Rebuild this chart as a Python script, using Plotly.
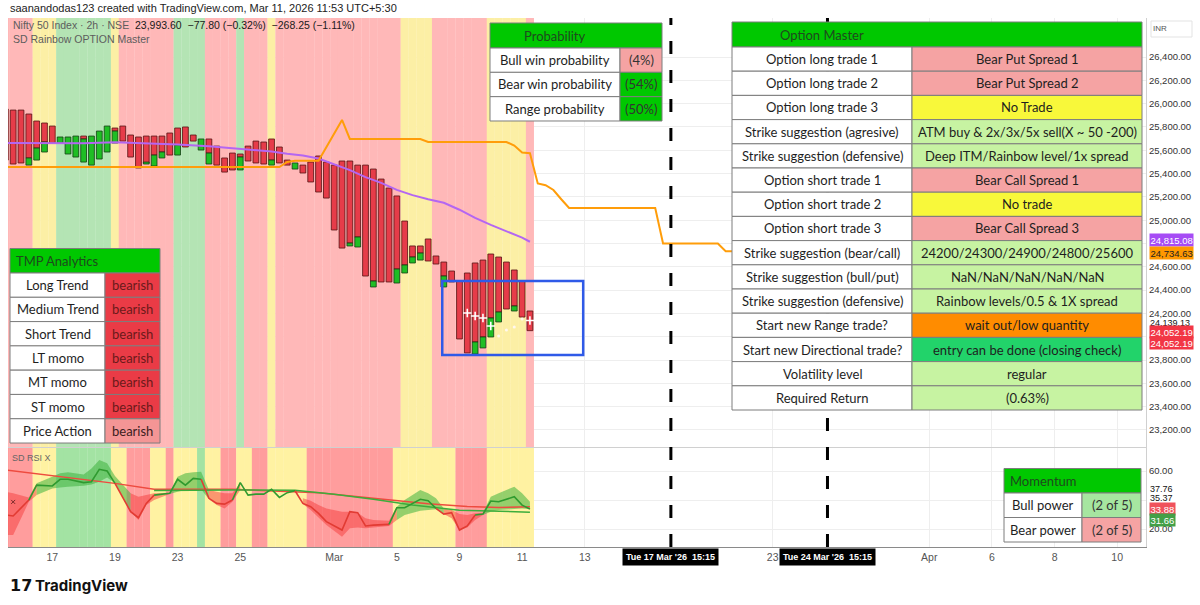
import plotly.graph_objects as go

W, H = 1200, 605
N = None

# ------------------------------------------------------------------ data
bar_idx = list(range(-2, 66))
red_hi = [25954, 25945, 25945, 25911, 25851, 25834, 25808, N, N, N, 25722, N, N, N, 25791, 25808,
          25731, 25714, 25722, 25722, 25722, 25748, 25791, 25800, 25731, N, 25697, 25636, 25534, 25576,
          25568, 25636, 25679, 25671, 25697, 25628, 25516, N, 25473, 25499, 25551, 25499, 25473, 25508,
          25508, 25473, 25473, 25439, 25353, 25276, 25208, 24993, 24779, 24779, 24839, 24693, 24641,
          24564, 24478, 24547, 24633, 24658, 24710, 24684, 24641, 24573, 24478, 24221]
red_lo = [25516, 25482, 25491, 25534, 25619, 25671, 25662, N, N, N, 25697, N, N, N, 25765, 25679,
          25542, 25448, 25491, 25559, 25585, 25559, 25645, 25628, 25679, N, 25576, 25473, 25413, 25431,
          25542, 25508, 25491, 25482, 25516, 25491, 25473, N, 25405, 25328, 25242, 25190, 24916, 24761,
          24804, 24856, 24521, 24478, 24470, 24470, 24581, 24616, 24684, 24718, 24650, 24624, 24521,
          24470, 23981, 23861, 23955, 23998, 24161, 24212, 24238, 24264, 24169, 24052.19]
grn_hi = [N, N, N, 25534, 25619, 25671, N, 25714, 25714, 25722, 25697, 25722, 25765, 25808, 25765, N,
          N, N, 25499, 25559, 25585, N, 25645, N, N, 25697, 25576, N, N, N,
          25542, N, N, N, 25516, N, N, 25491, N, N, N, N, N, N,
          24804, 24856, N, 24478, N, N, 24581, 24616, 24684, 24718, N, N, 24521,
          N, N, N, 23955, 23998, 24161, 24212, N, 24264, N, N]
grn_lo = [N, N, N, 25473, 25516, 25585, N, 25662, 25568, 25542, 25499, 25473, 25525, 25585, 25662, N,
          N, N, 25482, 25465, 25534, N, 25559, N, N, 25602, 25482, N, N, N,
          25431, N, N, N, 25473, N, N, 25439, N, N, N, N, N, N,
          24779, 24770, N, 24427, N, N, 24461, 24547, 24633, 24658, N, N, 24427,
          N, N, N, 23852, 23904, 23998, 24127, N, 24221, N, N]

# background state per bar (runs of r / y / g)
main_bg_runs = [("r", 4), ("y", 3), ("g", 7), ("y", 1), ("r", 7), ("g", 4), ("r", 4), ("g", 1),
                ("r", 3), ("y", 1), ("r", 16), ("y", 4), ("r", 7), ("y", 5), ("r", 1)]
rsi_bg_runs = [("r", 4), ("y", 3), ("g", 7), ("y", 2), ("r", 3), ("y", 2), ("r", 1), ("y", 3),
               ("g", 1), ("y", 2), ("r", 2), ("y", 2), ("r", 2), ("y", 5), ("r", 11), ("y", 8),
               ("r", 4), ("y", 6)]

# moving average (purple) and projected level (orange)
ma_x = [-2, 0, 4, 8, 12, 16, 20, 24, 28, 32, 34, 36, 38, 40, 42, 44, 46, 48, 50, 52, 54, 56, 58, 60,
        62, 64, 65]
ma_y = [25662, 25662, 25662, 25660, 25668, 25660, 25650, 25635, 25612, 25590, 25570, 25555, 25530,
        25480, 25430, 25370, 25320, 25260, 25215, 25180, 25150, 25090, 25020, 24960, 24905, 24850,
        24815.08]
or_x = [-2, 33, 34, 35, 38, 41, 42, 51, 52, 62, 63, 64, 65, 66, 67, 68, 69, 70, 81, 82, 89, 90, 143]
or_y = [25456, 25456, 25500, 25510, 25510, 25860, 25697, 25697, 25671, 25671, 25640, 25580, 25575,
        25316, 25300, 25259, 25180, 25105, 25105, 24800, 24800, 24734.63, 24734.63]

cross_x = [57, 58, 59, 60, 65]
cross_y = [24204, 24178, 24161, 24092, 24139.13]
dot_x = [61, 62, 63, 64]
dot_y = [24006, 24058, 24084, 24152]

# RSI panel
rsi_x = [-2, -1, 1, 2, 4, 5, 6, 8, 9, 10, 11, 12, 14, 15, 16, 17, 19, 20, 21, 22, 23, 24, 25, 26,
         27, 28, 29, 30, 31, 32, 33, 34, 35, 36, 37, 38, 39, 41, 42, 43, 44, 45, 47, 48, 49, 51,
         52, 53, 54, 55, 56, 57, 58, 59, 60, 61, 63, 64, 65]
rsi_fast = [29.7, 29.0, 40.0, 50.3, 49.7, 54.3, 54.3, 52.0, 52.6, 61.2, 60.0, 51.5, 32.0, 27.8,
            37.7, 43.4, 44.6, 54.3, 50.3, 54.9, 54.3, 41.2, 37.7, 37.2, 40.0, 52.0, 43.4, 44.1,
            44.1, 47.4, 41.8, 45.1, 46.4, 37.7, 35.4, 30.8, 25.1, 19.3, 32.0, 31.3, 22.1, 22.7,
            23.2, 34.7, 34.7, 40.5, 39.5, 34.2, 30.3, 31.3, 19.3, 22.1, 29.7, 30.3, 39.3, 38.8,
            42.3, 36.5, 33.88]
band_hi = [45.8, 44.6, 41.8, 51.5, 56.1, 58.4, 59.1, 57.7, 61.8, 67.6, 65.3, 56.6, 44.6, 42.3,
           43.4, 44.6, 45.1, 56.1, 58.4, 59.1, 59.5, 46.9, 45.8, 44.6, 44.6, 52.0, N, N, N, N, N,
           N, N, 41.2, 39.5, 36.5, 34.2, 32.0, 32.0, 31.3, 27.4, 26.2, 25.7, 35.4, 40.0, 46.9,
           44.6, 41.2, 34.2, 33.1, 30.3, 29.7, 30.8, 31.3, 42.3, 44.6, 49.2, 44.6, 38.8]
band_lo = [15.8, 15.8, 38.8, 43.4, 48.0, 48.7, 49.2, 49.9, 50.8, 52.6, 55.6, 51.5, 32.0, 26.2,
           36.5, 40.0, 44.1, 45.8, 46.9, 46.9, 47.4, 40.5, 36.5, 34.2, 38.8, 46.9, N, N, N, N, N,
           N, N, 37.2, 33.1, 28.0, 22.7, 14.7, 20.5, 21.1, 20.5, 21.1, 22.1, 26.2, 29.7, 32.6,
           33.1, 33.6, 30.3, 27.4, 19.3, 21.1, 26.2, 29.7, 32.0, 33.1, 33.8, 34.2, 33.6]
band_runs = [("r", 3), ("g", 9), ("r", 4), ("g", 5), ("r", 4), ("g", 1), ("n", 7), ("r", 10),
             ("g", 5), ("r", 5), ("g", 6)]
slow_x = [-2, 5, 12, 17, 27, 38, 47, 52, 57, 61, 65]
slow_y = [60.7, 56.1, 51.5, 47.4, 47.4, 45.1, 40.0, 37.5, 35.5, 34.8, 35.37]
sig_x = [17, 27, 35, 40, 45, 50, 56, 60, 65]
sig_y = [46.5, 47.0, 46.8, 44.0, 40.5, 36.5, 33.0, 32.2, 31.66]
xmark_x = [-1]
xmark_y = [38.7]

# axis labels
date_ticks = [4, 12, 20, 28, 40, 48, 56, 64, 72, 96, 116, 124, 132, 140]
date_text = ["17", "19", "23", "25", "Mar", "5", "9", "11", "13", "23", "Apr", "6", "8", "10"]
mark_bars = [83, 103]
mark_text = ["Tue 17 Mar '26  15:15", "Tue 24 Mar '26  15:15"]
price_ticks = [23200, 23400, 23600, 23800, 24000, 24200, 24400, 24600, 24800, 25000, 25200, 25400,
               25600, 25800, 26000, 26200, 26400]
price_tick_text = ["23,200.00", "23,400.00", "23,600.00", "23,800.00", "", "24,200.00",
                   "24,400.00", "24,600.00", "", "25,000.00", "25,200.00", "25,400.00",
                   "25,600.00", "25,800.00", "26,000.00", "26,200.00", "26,400.00"]
rsi_ticks = [20, 40, 60]
rsi_tick_text = ["20.00", "", "60.00"]

# tables
tmp_labels = ["Long Trend", "Medium Trend", "Short Trend", "LT momo", "MT momo", "ST momo",
              "Price Action"]
tmp_values = ["bearish", "bearish", "bearish", "bearish", "bearish", "bearish", "bearish"]
tmp_state = ["strong", "strong", "strong", "strong", "strong", "strong", "weak"]
prob_labels = ["Bull win probability", "Bear win probability", "Range probability"]
prob_values = ["(4%)", "(54%)", "(50%)"]
prob_state = ["lred", "green", "green"]
om_labels = ["Option long trade 1", "Option long trade 2", "Option long trade 3",
             "Strike suggestion (agresive)", "Strike suggestion (defensive)",
             "Option short trade 1", "Option short trade 2", "Option short trade 3",
             "Strike suggestion (bear/call)", "Strike suggestion (bull/put)",
             "Strike suggestion (defensive)", "Start new Range trade?",
             "Start new Directional trade?", "Volatility level", "Required Return"]
om_values = ["Bear Put Spread 1", "Bear Put Spread 2", "No Trade",
             "ATM buy &amp; 2x/3x/5x sell(X ~ 50 -200)", "Deep ITM/Rainbow level/1x spread",
             "Bear Call Spread 1", "No trade", "Bear Call Spread 3",
             "24200/24300/24900/24800/25600", "NaN/NaN/NaN/NaN/NaN",
             "Rainbow levels/0.5 &amp; 1X spread", "wait out/low quantity",
             "entry can be done (closing check)", "regular", "(0.63%)"]
om_state = ["lred", "lred", "yellow", "lgreen", "lgreen", "lred", "yellow", "lred", "lgreen",
            "lgreen", "lgreen", "orange", "mint", "lgreen", "lgreen"]
mom_labels = ["Bull power", "Bear power"]
mom_values = ["(2 of 5)", "(2 of 5)"]
mom_state = ["pgreen", "lred"]

# ------------------------------------------------------------------ style
MAIN_BG = {"r": "#ffb8b8", "y": "#fcefa5", "g": "#b4e4b4"}
RSI_BG = {"r": "#ff9d9d", "y": "#fff2a2", "g": "#a3e3a3"}
CELL = {"lred": "#f5a3a3", "green": "#00c800", "yellow": "#f8f83a", "lgreen": "#c7f3a2",
        "orange": "#ff8c00", "mint": "#22d36a", "pgreen": "#a6e6a0",
        "strong": "#ea3b46", "weak": "#f49595"}
HEAD = "#00c800"
GRID = "#eeeeee"
FONT = "Lato"
AXFONT = "Liberation Sans"

MAIN_LO, MAIN_HI = 23054, 26735
RSI_LO, RSI_HI = 7.6, 75.9
X_LO, X_HI = -1.66, 143.68


def px(x):
    return x / W


def py(y):
    return 1 - y / H


def expand(runs):
    out = []
    for s, n in runs:
        out += [s] * n
    return out


fig = go.Figure()

# background bands
mb = expand(main_bg_runs)
fig.add_trace(go.Bar(x=bar_idx, y=[MAIN_HI - MAIN_LO] * len(bar_idx), base=MAIN_LO, width=1.03,
                     marker=dict(color=[MAIN_BG[s] for s in mb], line=dict(width=0)),
                     xaxis="x", yaxis="y", hoverinfo="skip"))
rb = expand(rsi_bg_runs)
fig.add_trace(go.Bar(x=bar_idx, y=[RSI_HI - RSI_LO] * len(bar_idx), base=RSI_LO, width=1.03,
                     marker=dict(color=[RSI_BG[s] for s in rb], line=dict(width=0)),
                     xaxis="x2", yaxis="y2", hoverinfo="skip"))

# candles
fig.add_trace(go.Bar(x=bar_idx, base=red_lo,
                     y=[(h - l) if h is not None else None for h, l in zip(red_hi, red_lo)],
                     width=0.74, marker=dict(color="#e63c49", line=dict(color="#561313", width=0.8)),
                     xaxis="x", yaxis="y"))
fig.add_trace(go.Bar(x=bar_idx, base=grn_lo,
                     y=[(h - l) if h is not None else None for h, l in zip(grn_hi, grn_lo)],
                     width=0.74, marker=dict(color="#1fbe24", line=dict(color="#143d14", width=0.8)),
                     xaxis="x", yaxis="y"))

fig.add_trace(go.Scatter(x=ma_x, y=ma_y, mode="lines", line=dict(color="#b466f2", width=2),
                         xaxis="x", yaxis="y"))
fig.add_trace(go.Scatter(x=or_x, y=or_y, mode="lines", line=dict(color="#ff9d0a", width=2),
                         xaxis="x", yaxis="y"))
fig.add_trace(go.Scatter(x=cross_x, y=cross_y, mode="markers",
                         marker=dict(symbol="cross-thin", size=6, line=dict(color="white", width=1.6)),
                         xaxis="x", yaxis="y"))
fig.add_trace(go.Scatter(x=dot_x, y=dot_y, mode="markers",
                         marker=dict(symbol="circle", size=3, color="#fff8f0"),
                         xaxis="x", yaxis="y"))

# RSI bands
states = expand(band_runs)
k = 0
for s, n in band_runs:
    if s != "n":
        end = k + n
        if end < len(states) and states[end] != "n":
            end += 1
        xs = rsi_x[k:end]
        hi = band_hi[k:end]
        lo = band_lo[k:end]
        if len(xs) > 1:
            fig.add_trace(go.Scatter(x=xs + xs[::-1], y=hi + lo[::-1], fill="toself", mode="none",
                                     fillcolor="rgba(62,178,62,0.55)" if s == "g" else "rgba(245,60,60,0.5)",
                                     xaxis="x2", yaxis="y2", hoverinfo="skip"))
    k += n

fig.add_trace(go.Scatter(x=slow_x, y=slow_y, mode="lines", line=dict(color="#ee4b3f", width=1.5),
                         xaxis="x2", yaxis="y2"))
fig.add_trace(go.Scatter(x=sig_x, y=sig_y, mode="lines", line=dict(color="#3cad3c", width=1.5),
                         xaxis="x2", yaxis="y2"))

# fast RSI: coloured segments
seg_x, seg_y, seg_c = [rsi_x[0]], [rsi_fast[0]], None
for j in range(1, len(rsi_x)):
    c = "#e23b33" if states[j] == "r" else "#2f9a2f"
    if seg_c is not None and c != seg_c:
        fig.add_trace(go.Scatter(x=seg_x, y=seg_y, mode="lines", line=dict(color=seg_c, width=1.6),
                                 xaxis="x2", yaxis="y2"))
        seg_x, seg_y = [seg_x[-1]], [seg_y[-1]]
    seg_c = c
    seg_x.append(rsi_x[j])
    seg_y.append(rsi_fast[j])
fig.add_trace(go.Scatter(x=seg_x, y=seg_y, mode="lines", line=dict(color=seg_c, width=1.6),
                         xaxis="x2", yaxis="y2"))
fig.add_trace(go.Scatter(x=xmark_x, y=xmark_y, mode="markers",
                         marker=dict(symbol="x-thin", size=4, line=dict(color="#7a2a2a", width=1)),
                         xaxis="x2", yaxis="y2"))

shapes = []
annots = []

# blue box drawing
box_x = [53.8, 71.8]
box_p = [24478, 23843]
shapes.append(dict(type="rect", xref="x", yref="y", x0=box_x[0], x1=box_x[1], y0=box_p[1],
                   y1=box_p[0], line=dict(color="#2f5ae8", width=2.5), layer="above"))

# dashed vertical markers
for xb, t in zip(mark_bars, mark_text):
    shapes.append(dict(type="line", xref="x", yref="paper", x0=xb, x1=xb, y0=py(547), y1=py(18),
                       line=dict(color="black", width=3, dash="13px,16px"), layer="above"))
    annots.append(dict(xref="x", yref="paper", x=xb, y=py(557), text="<b>" + t + "</b>",
                       showarrow=False, font=dict(size=9, color="white", family=AXFONT),
                       bgcolor="black", borderpad=3, xanchor="center", yanchor="middle"))


def cell(x0, y0, x1, y1, fill, text, color, size, align="center"):
    shapes.append(dict(type="rect", xref="paper", yref="paper", x0=px(x0), x1=px(x1), y0=py(y1),
                       y1=py(y0), fillcolor=fill, line=dict(color="#7d7d7d", width=1),
                       layer="above"))
    if text:
        annots.append(dict(xref="paper", yref="paper", x=px((x0 + x1) / 2), y=py((y0 + y1) / 2),
                           text=text, showarrow=False, xanchor="center", yanchor="middle",
                           font=dict(size=size, color=color, family=FONT)))


def table(x0, xs, x1, ytop, hh, rh, title, labels, values, fills, tcolors, size):
    cell(x0, ytop, x1, ytop + hh, HEAD, None, None, size)
    annots.append(dict(xref="paper", yref="paper", x=px((x0 + xs) / 2), y=py(ytop + hh / 2),
                       text=title, showarrow=False, xanchor="center", yanchor="middle",
                       font=dict(size=size, color="#1e4a1e", family=FONT)))
    for r in range(len(labels)):
        y = ytop + hh + r * rh
        cell(x0, y, xs, y + rh, "white", labels[r], "#1e1e1e", size)
        cell(xs, y, x1, y + rh, fills[r], values[r], tcolors[r], size)


table(10, 105, 160, 248.5, 24.5, 24.29, "TMP Analytics", tmp_labels, tmp_values,
      [CELL[s] for s in tmp_state], ["#6a1a1a" if s == "strong" else "#3a2020" for s in tmp_state], 13)
table(490, 620, 662, 23, 25, 24.33, "Probability", prob_labels, prob_values,
      [CELL[s] for s in prob_state], ["#333333"] * 3, 13)
table(732, 912, 1142, 22, 25, 24.2, "Option Master", om_labels, om_values,
      [CELL[s] for s in om_state], ["#1e1e1e"] * len(om_values), 13)
table(1004, 1082, 1141, 468.5, 24.5, 24.5, "Momentum", mom_labels, mom_values,
      [CELL[s] for s in mom_state], ["#333333"] * 2, 13)


def side_label(text, ypix, bg, fg, size=9.5, pad=0.5):
    annots.append(dict(xref="paper", yref="paper", x=px(1149), y=py(ypix), text=text,
                       showarrow=False, xanchor="left", yanchor="middle", bgcolor=bg,
                       font=dict(size=size, color=fg, family=AXFONT), borderpad=pad))


side_label("24,815.08", 240, "#a64cf5", "white")
side_label("24,734.63", 253, "#ff9800", "#222222")
side_label("24,139.13", 322.5, None, "#111111", 9, 0)
side_label("24,052.19", 331.5, "#f23645", "white")
side_label("24,052.19", 343.5, "#f23645", "white")
side_label("37.76", 488.5, None, "#111111", 9, 0)
side_label("35.37", 497.5, None, "#111111", 9, 0)
side_label("33.88", 508.5, "#f0525c", "white")
side_label("31.66", 519.5, "#43a047", "white")

# INR box
shapes.append(dict(type="rect", xref="paper", yref="paper", x0=px(1151), x1=px(1192), y0=py(37),
                   y1=py(21), line=dict(color="#e3e3e3", width=1), fillcolor="white", layer="above"))
annots.append(dict(xref="paper", yref="paper", x=px(1160), y=py(29), text="INR", showarrow=False,
                   xanchor="center", yanchor="middle", font=dict(size=8, color="#555", family=AXFONT)))

# header / footer texts
annots.append(dict(xref="paper", yref="paper", x=px(8), y=py(8),
                   text="saanandodas123 created with TradingView.com, Mar 11, 2026 11:53 UTC+5:30",
                   showarrow=False, xanchor="left", yanchor="middle",
                   font=dict(size=11, color="#222", family=AXFONT)))
annots.append(dict(xref="paper", yref="paper", x=px(11), y=py(25),
                   text="<span style='color:#5d5d5d'>Nifty 50 Index · 2h · NSE</span>  "
                        "23,993.60  −77.80 (−0.32%)  −268.25 (−1.11%)",
                   showarrow=False, xanchor="left", yanchor="middle",
                   font=dict(size=10.5, color="#1a1a1a", family=AXFONT)))
annots.append(dict(xref="paper", yref="paper", x=px(11), y=py(39), text="SD Rainbow OPTION Master",
                   showarrow=False, xanchor="left", yanchor="middle",
                   font=dict(size=10.5, color="#5d5d5d", family=AXFONT)))
annots.append(dict(xref="paper", yref="paper", x=px(10), y=py(458), text="SD RSI X",
                   showarrow=False, xanchor="left", yanchor="middle",
                   font=dict(size=9, color="#666", family=AXFONT)))
annots.append(dict(xref="paper", yref="paper", x=px(8), y=py(585), text="<b>17</b>",
                   showarrow=False, xanchor="left", yanchor="middle",
                   font=dict(size=16, color="#111", family="DejaVu Sans")))
annots.append(dict(xref="paper", yref="paper", x=px(33), y=py(585), text="<b>TradingView</b>",
                   showarrow=False, xanchor="left", yanchor="middle",
                   font=dict(size=15, color="#111", family="Inter")))

xdom = [px(8), px(1146)]
fig.update_layout(
    width=W, height=H, margin=dict(l=0, r=0, t=0, b=0),
    paper_bgcolor="white", plot_bgcolor="white", barmode="overlay", showlegend=False,
    xaxis=dict(domain=xdom, range=[X_LO, X_HI], anchor="y", tickvals=date_ticks,
               showticklabels=False, showgrid=True, gridcolor=GRID, zeroline=False, ticks="",
               showline=True, linecolor="#d0d0d0"),
    yaxis=dict(domain=[py(447), py(18)], range=[MAIN_LO, MAIN_HI], anchor="x", side="right",
               tickvals=price_ticks, ticktext=price_tick_text, showgrid=True, gridcolor=GRID,
               zeroline=False, ticks="", tickfont=dict(size=9.5, color="#333", family=AXFONT),
               showline=True, linecolor="#d0d0d0", automargin=False),
    xaxis2=dict(domain=xdom, range=[X_LO, X_HI], anchor="y2", tickvals=date_ticks,
                ticktext=date_text, showgrid=True, gridcolor=GRID, zeroline=False, ticks="",
                showline=True, linecolor="#8a8a8a", automargin=False,
                tickfont=dict(size=10.5, color="#555", family=AXFONT)),
    yaxis2=dict(domain=[py(547), py(448)], range=[RSI_LO, RSI_HI], anchor="x2", side="right",
                tickvals=rsi_ticks, ticktext=rsi_tick_text, showgrid=True,
                gridcolor=GRID, zeroline=False, ticks="", automargin=False,
                tickfont=dict(size=9.5, color="#333", family=AXFONT),
                showline=True, linecolor="#d0d0d0"),
    shapes=shapes, annotations=annots,
)

fig.write_html("out.html", config={"displayModeBar": False},
               post_script="document.body.style.margin='0';document.body.style.overflow='hidden';")
